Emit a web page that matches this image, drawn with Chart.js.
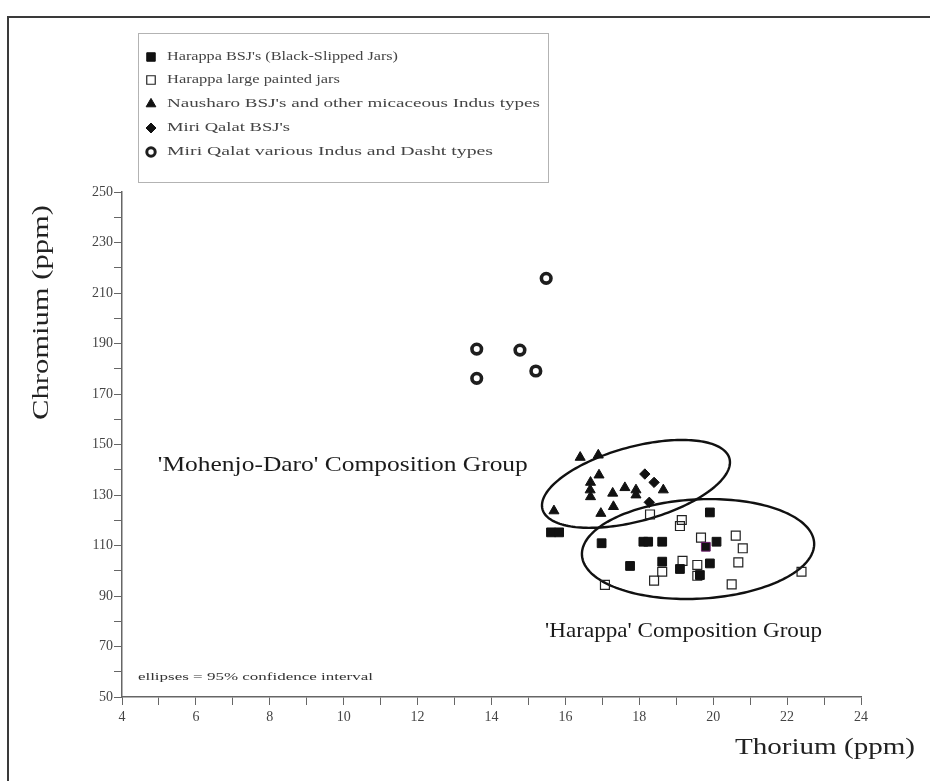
<!DOCTYPE html>
<html>
<head>
<meta charset="utf-8">
<script src="https://cdn.jsdelivr.net/npm/chart.js@4.4.1/dist/chart.umd.min.js"></script>
<style>
  html, body { margin: 0; padding: 0; background: #fff; overflow: hidden; }
  #wrap { position: relative; width: 930px; height: 781px; }
  #frame { position: absolute; left: 7px; top: 16px; width: 940px; height: 800px;
           border: 2px solid #3a3a3a; box-sizing: border-box; }
  canvas { position: absolute; left: 0; top: 0; }
</style>
</head>
<body>
<div id="wrap">
  <div id="frame"></div>
  <canvas id="c" width="930" height="781"></canvas>
</div>
<script>
// Thorium (ppm) vs Chromium (ppm) for each ceramic group
const harappaBsjTh   = [15.61, 15.83, 16.98, 18.11, 18.24, 18.62, 19.91, 20.09, 19.80, 17.75, 18.62, 19.10, 19.91, 19.64];
const harappaBsjCr   = [115.2, 115.2, 110.9, 111.5, 111.5, 111.5, 123.1, 111.5, 109.5, 101.9, 103.6, 100.7, 102.9, 98.3];

const harappaJarTh   = [18.29, 19.15, 19.10, 19.67, 20.61, 20.80, 19.17, 19.57, 20.68, 18.62, 18.40, 19.57, 17.07, 20.50, 22.39];
const harappaJarCr   = [122.3, 120.1, 117.7, 113.1, 113.9, 108.9, 103.9, 102.3, 103.3, 99.6, 96.1, 98.0, 94.4, 94.6, 99.6];

const naushTh        = [16.40, 16.89, 16.91, 16.68, 16.67, 16.68, 17.28, 17.61, 17.91, 17.91, 17.30, 16.96, 18.65, 15.69];
const naushCr        = [144.9, 145.8, 137.9, 135.0, 132.0, 129.3, 130.7, 132.9, 132.0, 130.0, 125.4, 122.7, 132.0, 123.7];

const miriBsjTh      = [18.15, 18.40, 18.27];
const miriBsjCr      = [138.3, 135.0, 127.1];

const miriVariousTh  = [15.48, 13.60, 14.77, 15.20, 13.60];
const miriVariousCr  = [215.8, 187.8, 187.4, 179.1, 176.2];

const seriesLabels = [
  "Harappa BSJ's (Black-Slipped Jars)",
  "Harappa large painted jars",
  "Nausharo BSJ's and other micaceous Indus types",
  "Miri Qalat BSJ's",
  "Miri Qalat various Indus and Dasht types"
];

// 95% confidence ellipses: centre and two conjugate half-axes, in data units
const ellipseCentreTh = [17.91, 19.59];
const ellipseCentreCr = [134.4, 108.6];
const ellipseAxisUTh  = [2.53, 3.142];
const ellipseAxisUCr  = [10.06, 2.42];
const ellipseAxisVTh  = [0.264, 0.070];
const ellipseAxisVCr  = [-14.2, -19.64];

const xTickValues = [4, 6, 8, 10, 12, 14, 16, 18, 20, 22, 24];
const yTickValues = [50, 70, 90, 110, 130, 150, 170, 190, 210, 230, 250];

const SERIF = '"Liberation Serif", "Times New Roman", serif';

function pts(xs, ys) { return xs.map((x, i) => ({ x: x, y: ys[i] })); }

const datasets = [
  { label: seriesLabels[0], data: pts(harappaBsjTh, harappaBsjCr),
    pointStyle: 'rect', pointRadius: 6.2, backgroundColor: '#111',
    borderColor: c => (c.dataIndex === 8 ? '#6a1b6a' : '#111'), borderWidth: 1 },
  { label: seriesLabels[1], data: pts(harappaJarTh, harappaJarCr),
    pointStyle: 'rect', pointRadius: 6.3, backgroundColor: 'rgba(255,255,255,0.0)',
    borderColor: '#222', borderWidth: 1.2 },
  { label: seriesLabels[2], data: pts(naushTh, naushCr),
    pointStyle: 'triangle', pointRadius: 5.8, backgroundColor: '#111',
    borderColor: '#111', borderWidth: 1 },
  { label: seriesLabels[3], data: pts(miriBsjTh, miriBsjCr),
    pointStyle: 'rectRot', pointRadius: 5.2, backgroundColor: '#111',
    borderColor: '#111', borderWidth: 1 },
  { label: seriesLabels[4], data: pts(miriVariousTh, miriVariousCr),
    pointStyle: 'circle', pointRadius: 4.8, backgroundColor: '#fff',
    borderColor: '#1e1e1e', borderWidth: 3.6 }
];

// Draw a line of text stretched to a given width
function stretchText(ctx, text, x, y, size, width, color, rotate) {
  ctx.save();
  ctx.font = size + 'px ' + SERIF;
  const w = ctx.measureText(text).width;
  ctx.translate(x, y);
  if (rotate) ctx.rotate(-Math.PI / 2);
  ctx.scale(width / w, 1);
  ctx.fillStyle = color;
  ctx.textAlign = 'left';
  ctx.textBaseline = 'middle';
  ctx.fillText(text, 0, 0);
  ctx.restore();
}

const decor = {
  id: 'decor',
  beforeDatasetsDraw(chart) {
    const { ctx, scales: { x, y } } = chart;
    ctx.save();
    ctx.strokeStyle = '#111';
    ctx.lineWidth = 2.4;
    for (let k = 0; k < ellipseCentreTh.length; k++) {
      ctx.beginPath();
      const n = 180;
      for (let i = 0; i <= n; i++) {
        const t = (i / n) * Math.PI * 2;
        const th = ellipseCentreTh[k] + ellipseAxisUTh[k] * Math.cos(t) + ellipseAxisVTh[k] * Math.sin(t);
        const cr = ellipseCentreCr[k] + ellipseAxisUCr[k] * Math.cos(t) + ellipseAxisVCr[k] * Math.sin(t);
        const px = x.getPixelForValue(th), py = y.getPixelForValue(cr);
        if (i === 0) ctx.moveTo(px, py); else ctx.lineTo(px, py);
      }
      ctx.closePath();
      ctx.stroke();
    }
    ctx.restore();
  },
  afterDraw(chart) {
    const { ctx, scales: { x, y } } = chart;

    // group captions and note
    stretchText(ctx, "'Mohenjo-Daro' Composition Group", x.getPixelForValue(4.97), y.getPixelForValue(141.5), 21, 370, '#1a1a1a');
    stretchText(ctx, "'Harappa' Composition Group", x.getPixelForValue(15.45), y.getPixelForValue(76.1), 21, 277, '#1a1a1a');
    stretchText(ctx, 'ellipses = 95% confidence interval', x.getPixelForValue(4.43), y.getPixelForValue(57.9), 11, 235, '#333');

    // axis titles
    stretchText(ctx, 'Chromium (ppm)', 42, 420, 23, 215, '#222', true);
    stretchText(ctx, 'Thorium (ppm)', 735, 748, 23, 180, '#222');

    // legend box
    ctx.save();
    ctx.strokeStyle = '#666';
    ctx.lineWidth = 1;
    ctx.setLineDash([1, 1]);
    ctx.strokeRect(138.5, 33.5, 410, 149);
    ctx.restore();

    const rowsY = [57, 80, 104, 128, 152];
    const textW = [231, 173, 373, 123, 326];
    const markerR = [6, 6, 5.6, 5, 4.2];
    chart.data.datasets.forEach((ds, i) => {
      ctx.save();
      ctx.fillStyle = ds.backgroundColor;
      ctx.strokeStyle = typeof ds.borderColor === 'function' ? '#111' : ds.borderColor;
      ctx.lineWidth = i === 4 ? 3 : ds.borderWidth;
      Chart.helpers.drawPoint(ctx, {
        pointStyle: ds.pointStyle,
        radius: markerR[i],
        rotation: 0,
        borderWidth: ctx.lineWidth
      }, 151, rowsY[i]);
      ctx.restore();
      stretchText(ctx, ds.label, 167, rowsY[i], 13, textW[i], '#444');
    });
  }
};

new Chart(document.getElementById('c'), {
  type: 'scatter',
  data: { datasets: datasets },
  options: {
    responsive: false,
    animation: false,
    devicePixelRatio: 1,
    layout: { padding: { left: 0, top: 192, right: 69, bottom: 0 } },
    plugins: { legend: { display: false }, tooltip: { enabled: false } },
    scales: {
      x: {
        type: 'linear', min: 4, max: 24,
        afterFit: s => { s.height = 84; },
        ticks: {
          stepSize: 1, autoSkip: false, maxRotation: 0, padding: 4,
          color: '#444', font: { family: SERIF, size: 14 },
          callback: v => (xTickValues.includes(v) ? String(v) : '')
        },
        grid: { drawOnChartArea: false, drawTicks: true, tickLength: 8, color: '#666', lineWidth: 1 },
        border: { display: true, color: '#666', width: 1.5, dash: [2, 1] }
      },
      y: {
        type: 'linear', min: 50, max: 250,
        afterFit: s => { s.width = 122; },
        ticks: {
          stepSize: 10, autoSkip: false, padding: 1,
          color: '#444', font: { family: SERIF, size: 14 },
          callback: v => (yTickValues.includes(v) ? String(v) : '')
        },
        grid: { drawOnChartArea: false, drawTicks: true, tickLength: 8, color: '#666', lineWidth: 1 },
        border: { display: true, color: '#666', width: 1.5, dash: [2, 1] }
      }
    }
  },
  plugins: [decor]
});
</script>
</body>
</html>
